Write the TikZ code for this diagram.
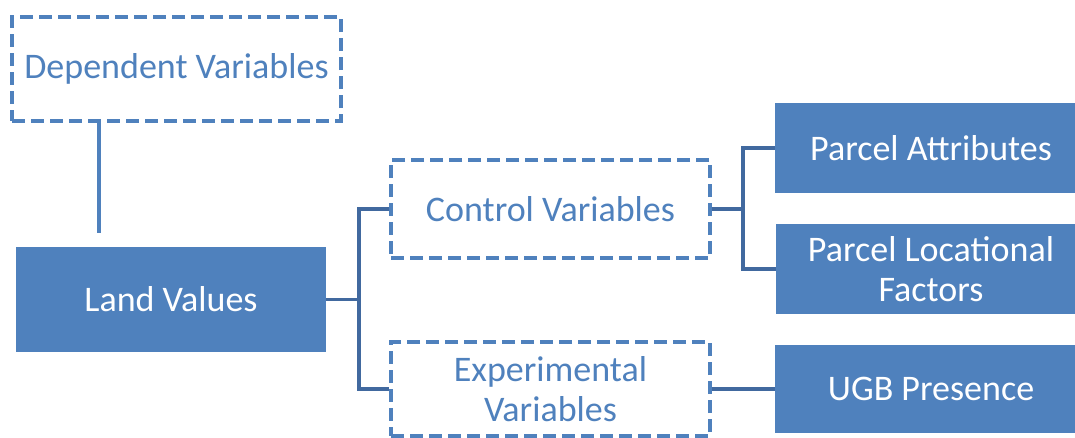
\documentclass[tikz,border=0pt]{standalone}
\usepackage{fontspec}
\setmainfont{Carlito}
\definecolor{accent}{HTML}{4F81BD}
\definecolor{linkc}{HTML}{41699F}
\begin{document}
\begin{tikzpicture}[x=1pt,y=-1pt,
  base/.style={rectangle, inner sep=0pt, align=center, font=\fontsize{36}{40}\selectfont},
  dashbox/.style={base, draw=accent, line width=3.5pt, dash pattern=on 13pt off 6pt, text=accent},
  solidbox/.style={base, fill=accent, text=white},
  link/.style={draw=linkc, line width=3.5pt},
  dep/.style={draw=accent, line width=4pt}]
\useasboundingbox (0,0) rectangle (1075,437);
\node[dashbox, minimum width=329pt, minimum height=104pt] (dv) at (176.5,69) {Dependent Variables};
\node[solidbox, minimum width=310pt, minimum height=105pt] (lv) at (171,299.5) {Land Values};
\node[dashbox, minimum width=319pt, minimum height=98pt] (cv) at (550.5,209) {Control Variables};
\node[dashbox, minimum width=319pt, minimum height=94pt] (ev) at (550.5,389) {Experimental\\Variables};
\node[solidbox, minimum width=312pt, minimum height=90pt] (pa) at (931,148) {Parcel Attributes};
\node[solidbox, minimum width=310pt, minimum height=90pt] (pl) at (931,269) {Parcel Locational\\Factors};
\node[solidbox, minimum width=312pt, minimum height=88pt] (ugb) at (931,389) {UGB Presence};
\coordinate (dvend) at (99,233);
\draw[dep] (dv.south -| dvend) -- (dvend);
\draw[link] (lv.east) -- ++(33,0) coordinate (j1);
\draw[link] (cv.west) -| (j1) |- (ev.west);
\draw[link] (cv.east) -- ++(31,0) coordinate (j2);
\draw[link] (pa.west) -| (j2) |- (pl.west);
\draw[link] (ev.east) -- (ugb.west);
\end{tikzpicture}
\end{document}
